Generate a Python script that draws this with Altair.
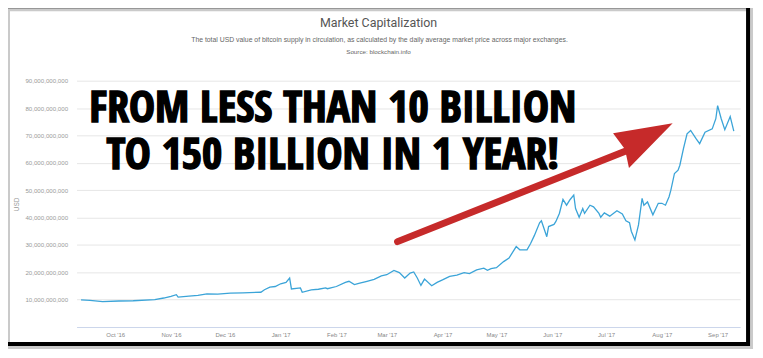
import altair as alt
import pandas as pd

# ---- data (market cap in USD billions) ----
dates = [
    "2016-09-12", "2016-09-17", "2016-09-24", "2016-10-03", "2016-10-11", "2016-10-23",
    "2016-10-28", "2016-11-01", "2016-11-04", "2016-11-05", "2016-11-11", "2016-11-16",
    "2016-11-21", "2016-11-27", "2016-12-04", "2016-12-11", "2016-12-21", "2016-12-23",
    "2016-12-26", "2016-12-29", "2017-01-01", "2017-01-04", "2017-01-06", "2017-01-07",
    "2017-01-12", "2017-01-13", "2017-01-18", "2017-01-22", "2017-01-26", "2017-01-27",
    "2017-02-01", "2017-02-06", "2017-02-08", "2017-02-11", "2017-02-14", "2017-02-18",
    "2017-02-22", "2017-02-26", "2017-03-01", "2017-03-05", "2017-03-08", "2017-03-11",
    "2017-03-14", "2017-03-16", "2017-03-18", "2017-03-20", "2017-03-22", "2017-03-26",
    "2017-03-29", "2017-04-01", "2017-04-05", "2017-04-09", "2017-04-13", "2017-04-16",
    "2017-04-20", "2017-04-24", "2017-04-26", "2017-04-28", "2017-05-01", "2017-05-05",
    "2017-05-08", "2017-05-12", "2017-05-14", "2017-05-18", "2017-05-20", "2017-05-22",
    "2017-05-25", "2017-05-26", "2017-05-29", "2017-05-30", "2017-06-02", "2017-06-03",
    "2017-06-05", "2017-06-07", "2017-06-09", "2017-06-11", "2017-06-13", "2017-06-14",
    "2017-06-16", "2017-06-18", "2017-06-19", "2017-06-22", "2017-06-24", "2017-06-27",
    "2017-06-28", "2017-06-30", "2017-07-03", "2017-07-07", "2017-07-10", "2017-07-12",
    "2017-07-14", "2017-07-15", "2017-07-17", "2017-07-19", "2017-07-21", "2017-07-22",
    "2017-07-24", "2017-07-27", "2017-07-30", "2017-08-01", "2017-08-03", "2017-08-05",
    "2017-08-06", "2017-08-08", "2017-08-10", "2017-08-11", "2017-08-13", "2017-08-15",
    "2017-08-17", "2017-08-20", "2017-08-22", "2017-08-25", "2017-08-29", "2017-08-31",
    "2017-09-01", "2017-09-03", "2017-09-05", "2017-09-08", "2017-09-10",
]
market_cap_bn = [
    9.9, 9.7, 9.3, 9.5, 9.6, 10.0,
    10.6, 11.2, 11.8, 10.9, 11.3, 11.6,
    12.1, 12.0, 12.4, 12.5, 12.7, 13.6,
    14.6, 14.8, 15.8, 16.3, 17.9, 13.9,
    14.3, 12.7, 13.6, 13.8, 14.3, 14.0,
    14.8, 16.3, 16.7, 15.5, 16.0, 16.7,
    17.4, 18.7, 19.1, 20.7, 19.9, 17.9,
    19.7, 20.1, 17.9, 15.2, 17.5, 15.1,
    16.3, 17.2, 18.5, 19.0, 19.9, 19.5,
    20.9, 21.5, 20.7, 21.3, 21.7, 23.9,
    25.2, 29.4, 28.2, 28.2, 30.5, 33.3,
    38.1, 38.8, 33.0, 36.7, 37.5, 38.5,
    41.5, 46.6, 44.5, 46.6, 48.2, 43.3,
    40.1, 43.3, 41.5, 44.5, 43.9, 41.5,
    40.1, 41.7, 40.5, 42.5, 41.3, 38.8,
    38.1, 35.0, 31.8, 37.3, 47.0, 44.5,
    45.7, 41.0, 45.2, 45.2, 44.5, 47.6,
    50.0, 56.1, 57.3, 59.1, 65.2, 70.6,
    71.8, 68.8, 67.0, 71.2, 72.4, 76.1,
    80.9, 76.1, 72.1, 76.9, 71.6,
]

y_ticks_bn = [10, 20, 30, 40, 50, 60, 70, 80, 90]

# annotation (arrow + headline) anchored in data space
arrow_dates = ["2017-03-07", "2017-07-13"]
arrow_bn = [31.2, 64.6]
arrow_tip_dates = ["2017-08-07"]
arrow_tip_bn = [74.4]

headline_lines = ["FROM LESS THAN 10 BILLION", "TO 150 BILLION IN 1 YEAR!"]
headline_date = ["2017-01-30"]
headline_bn = [74.75]

title_text = "Market Capitalization"
subtitle_text = ("The total USD value of bitcoin supply in circulation, as calculated by the "
                 "daily average market price across major exchanges.")
source_text = "Source: blockchain.info"

# ---- tables ----
B = 1e9
df = pd.DataFrame({"date": pd.to_datetime(dates), "usd": [v * B for v in market_cap_bn]})
arrow_df = pd.DataFrame({"date": pd.to_datetime(arrow_dates), "usd": [v * B for v in arrow_bn]})
tip_df = pd.DataFrame({"date": pd.to_datetime(arrow_tip_dates), "usd": [v * B for v in arrow_tip_bn]})
head_df = pd.DataFrame({"date": pd.to_datetime(headline_date), "usd": [v * B for v in headline_bn],
                        "line": ["\n".join(headline_lines)]})
one = pd.DataFrame({"k": [0]})

x_scale = alt.Scale(domain=[alt.DateTime(year=2016, month=9, date=9, hours=12),
                            alt.DateTime(year=2017, month=9, date=13, hours=12)])
y_scale = alt.Scale(domain=[0, 90 * B], nice=False)

X = alt.X("date:T", scale=x_scale,
          axis=alt.Axis(title=None, format="%b '%y",
                        tickCount={"interval": "month", "step": 1},
                        labelFontSize=6, labelColor="#888888", labelFont="Liberation Sans",
                        grid=False, ticks=False, domainColor="#ccd6eb", domainWidth=1,
                        labelPadding=5, labelOverlap=False))
Y = alt.Y("usd:Q", scale=y_scale,
          axis=alt.Axis(title="USD", values=[v * B for v in y_ticks_bn], tickCount=20,
                        format=",.0f",
                        labelFontSize=6.2, labelColor="#999999", labelFont="Liberation Sans",
                        labelPadding=9, labelOverlap=False, domain=False, ticks=False,
                        gridColor="#e6e6e6", gridWidth=1,
                        titleFontSize=6.5, titleColor="#999999", titleFontWeight="normal",
                        titleFont="Liberation Sans", titlePadding=5))

line = alt.Chart(df).mark_line(color="#3ba4d8", strokeWidth=1.3).encode(x=X, y=Y)

Xs = alt.X("date:T", scale=x_scale)
Ys = alt.Y("usd:Q", scale=y_scale)

shaft = alt.Chart(arrow_df).mark_line(color="#c62a2a", strokeWidth=7, strokeCap="round").encode(x=Xs, y=Ys)
head = alt.Chart(tip_df).mark_point(
    shape="M0,0 L-1,0.167 L-0.8,0.433 L-0.733,0.75 Z",
    size=14400, filled=True, color="#c62a2a", opacity=1,
).encode(x=Xs, y=Ys)

headline = alt.Chart(head_df).mark_text(
    font="'Open Sans Condensed', 'Roboto Condensed', 'DejaVu Sans Condensed', 'Liberation Sans', sans-serif",
    fontSize=44, fontWeight="bold", color="black", stroke="black", strokeWidth=1.5,
    align="center", baseline="alphabetic", lineBreak="\n", lineHeight=47,
).encode(x=Xs, y=Ys, text="line:N")

title = alt.Chart(one).mark_text(font="Roboto", fontSize=12.5, color="#555555",
                                 align="center", baseline="alphabetic").encode(
    x=alt.value(304), y=alt.value(-54), text=alt.value(title_text))
subtitle = alt.Chart(one).mark_text(font="Liberation Sans", fontSize=6.9, color="#666666",
                                    align="center", baseline="alphabetic").encode(
    x=alt.value(305), y=alt.value(-39), text=alt.value(subtitle_text))
source = alt.Chart(one).mark_text(font="Liberation Sans", fontSize=6.3, color="#666666",
                                  align="center", baseline="alphabetic").encode(
    x=alt.value(304), y=alt.value(-27), text=alt.value(source_text))

shadow = alt.Chart(one).mark_rect(fill="transparent", stroke="#b5b5b5", strokeWidth=4, opacity=0.7).encode(
    x=alt.value(-69), x2=alt.value(679), y=alt.value(-72), y2=alt.value(268))
frame = alt.Chart(one).mark_rect(fill="transparent", stroke="black", strokeWidth=4).encode(
    x=alt.value(-72), x2=alt.value(676), y=alt.value(-75), y2=alt.value(265))

chart = alt.layer(line, shaft, head, headline, title, subtitle, source, shadow, frame).properties(
    width=668, height=248,
    padding={"left": 69, "top": 72, "right": 15, "bottom": 26},
    autosize="none",
    background="white",
).configure_view(stroke=None)

chart.save("out.html", embed_options={"renderer": "svg", "actions": False})
